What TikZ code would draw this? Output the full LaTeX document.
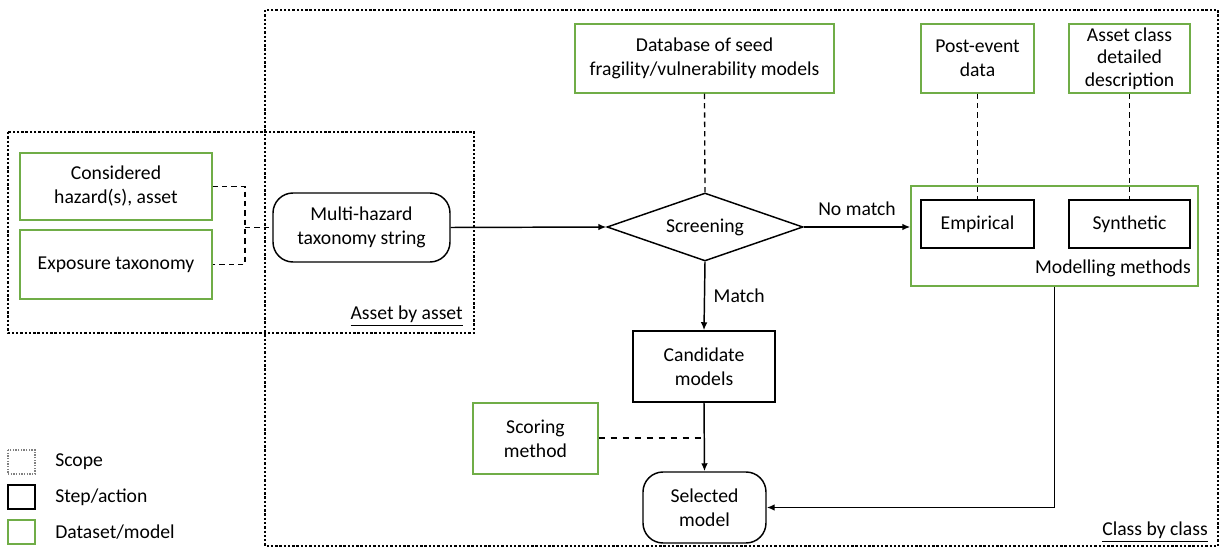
\documentclass[tikz,border=0pt]{standalone}
\usepackage{fontspec}
\setmainfont{Carlito}
\usepackage{tikz}
\usetikzlibrary{shapes.geometric,arrows.meta}
\definecolor{dataGreen}{RGB}{112,173,71}

\begin{document}
\begin{tikzpicture}[x=0.75pt,y=0.75pt,yscale=-1,xscale=1,
	font=\fontsize{14.75}{18}\selectfont,
	dataset/.style={draw=dataGreen,line width=1.1pt,inner sep=0pt,align=center,rectangle},
	action/.style={draw=black,line width=1.1pt,inner sep=0pt,align=center,rectangle},
	terminal/.style={action,rounded corners=15pt},
	scope/.style={line width=1.8pt,dash pattern=on 1.8pt off 1.4pt},
	link/.style={line width=1pt,dash pattern=on 4pt off 3pt},
	flow/.style={line width=1.1pt,-{Latex[length=6pt,width=5pt]}}]
	\useasboundingbox (0,0) rectangle (1224,548);
	
	%Scopes
	\draw [scope] (265,10) rectangle (1218,546) ;
	\draw [scope] (8,132) rectangle (474,333) ;
	\node (assetlbl) [anchor=east,inner sep=0pt] at (463,316) {\underline{Asset by asset}};
	\node (classlbl) [anchor=east,inner sep=0pt] at (1208,532) {\underline{Class by class}};
	
	%Shape: Rectangle (inputs)
	\node (hazard) [dataset,minimum width=144pt,minimum height=50.25pt] at (116,186.5) {Considered\\hazard(s), asset};
	\node (exposure) [dataset,minimum width=144pt,minimum height=51.75pt] at (116,264.5) {Exposure taxonomy};
	\node (multi) [terminal,minimum width=132.75pt,minimum height=51.75pt] at (361.5,227.5) {Multi-hazard\\taxonomy string};
	\coordinate (joint) at (245,227.5);
	
	%Shape: Diamond
	\node (screen) [draw,diamond,line width=1.1pt,inner sep=0pt,aspect=3,minimum width=147pt,minimum height=51pt] at (705,227) {Screening};
	
	%Shape: Rectangle (data on top)
	\node (db) [dataset,minimum width=194.25pt,minimum height=51.75pt] at (704.5,58.5) {Database of seed\\fragility/vulnerability models};
	\node (post) [dataset,minimum width=84.75pt,minimum height=51.75pt] at (977.5,58.5) {Post-event\\data};
	\node (assetcls) [dataset,minimum width=90.75pt,minimum height=51.75pt] at (1129.5,58.5) {Asset class\\[-1pt]detailed\\[-1pt]description};
	
	%Shape: Rectangle (modelling methods)
	\node (methods) [dataset,minimum width=215.25pt,minimum height=75pt] at (1054.5,236) {};
	\node (emp) [action,minimum width=84.75pt,minimum height=36pt] at (977.5,224) {Empirical};
	\node (syn) [action,minimum width=90.75pt,minimum height=36pt] at (1129.5,224) {Synthetic};
	\node (methodslbl) [anchor=east,inner sep=0pt] at (1191,268) {Modelling methods};
	
	%Shape: Rectangle (selection)
	\node (cand) [action,minimum width=106.5pt,minimum height=53.25pt] at (704,366.5) {Candidate\\models};
	\node (score) [dataset,minimum width=93.75pt,minimum height=53.25pt] at (535.5,438.5) {Scoring\\method};
	\node (sel) [terminal,minimum width=92.25pt,minimum height=53.25pt] at (704.5,507.5) {Selected\\model};
	
	%Straight Lines
	\draw [link] (hazard.east) -| (joint) |- (exposure.east) ;
	\draw [link] (joint) -- (multi.west) ;
	\draw [link] (db.south) -- (screen.north) ;
	\draw [link] (post.south) -- (emp.north) ;
	\draw [link] (assetcls.south) -- (syn.north) ;
	\draw [line width=1.5pt,dash pattern=on 5pt off 4pt] (score.east) -- (score.east -| cand.south) ;
	\draw [flow] (multi.east) -- (screen.west) ;
	\draw [flow] (screen.east) -- (screen.east -| methods.west) node (nomatch) [midway,above=5pt] {No match} ;
	\draw [flow] (screen.south) -- (cand.north) node (match) [midway,right=3pt] {Match} ;
	\draw [flow] (cand.south) -- (sel.north) ;
	\draw [flow] (methods.south) |- (sel.east) ;
	
	% Legend
	\draw [gray,line width=1pt,dash pattern=on 1pt off 1pt] (8,450) rectangle (35,474) ;
	\draw [line width=1.1pt] (8,485) rectangle (35,509) ;
	\draw [dataGreen,line width=1.1pt] (8,520) rectangle (35,544) ;
	\node (lgscope) [anchor=west,inner sep=0pt] at (55,462) {Scope};
	\node (lgstep) [anchor=west,inner sep=0pt] at (55,497) {Step/action};
	\node (lgdata) [anchor=west,inner sep=0pt] at (55,532) {Dataset/model};
\end{tikzpicture}
\end{document}
